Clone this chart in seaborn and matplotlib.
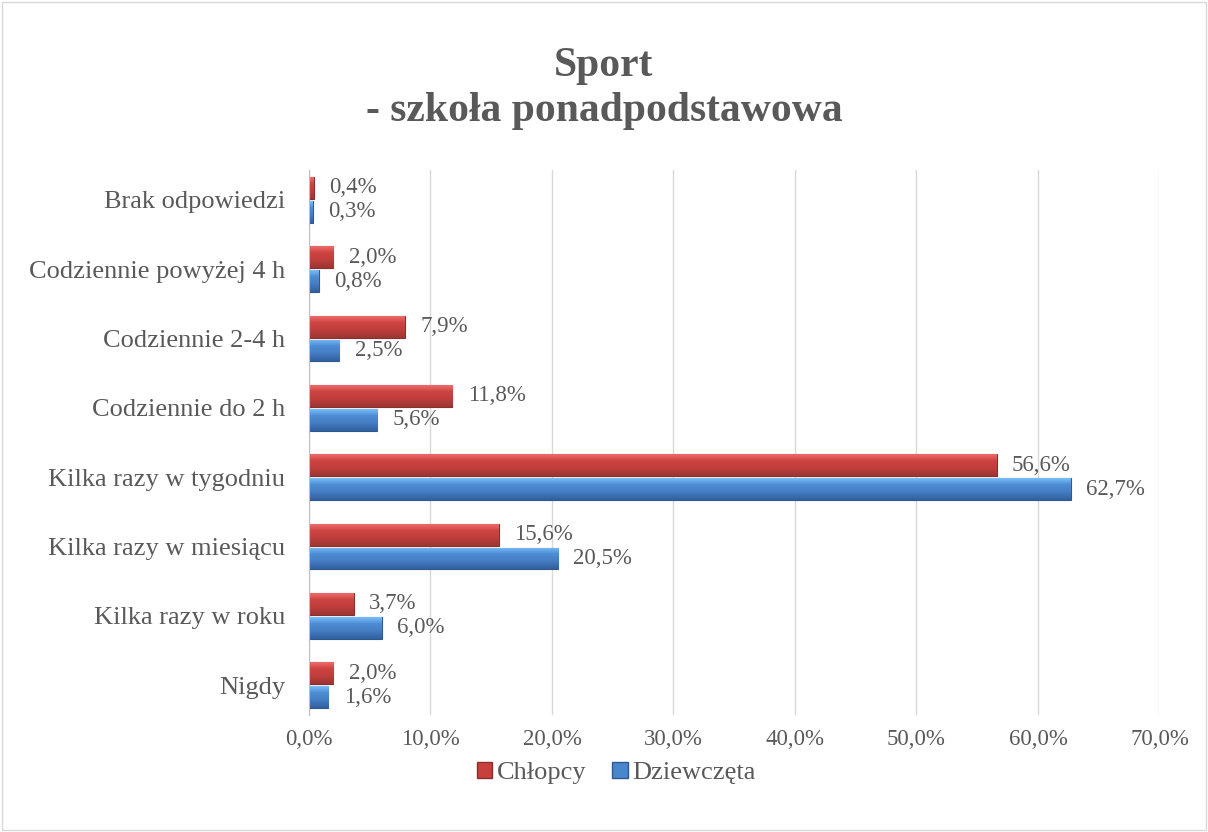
import matplotlib
matplotlib.use('Agg')
import matplotlib.pyplot as plt
import seaborn as sns
import pandas as pd
import numpy as np
from matplotlib.colors import to_rgb
from matplotlib.ticker import FuncFormatter

kategorie = [
    'Brak odpowiedzi',
    'Codziennie powyżej 4 h',
    'Codziennie 2-4 h',
    'Codziennie do 2 h',
    'Kilka razy w tygodniu',
    'Kilka razy w miesiącu',
    'Kilka razy w roku',
    'Nigdy',
]
chlopcy = [0.4, 2.0, 7.9, 11.8, 56.6, 15.6, 3.7, 2.0]
dziewczeta = [0.3, 0.8, 2.5, 5.6, 62.7, 20.5, 6.0, 1.6]
serie = ['Chłopcy', 'Dziewczęta']
kolory = ['#C8403E', '#4A86CC']
# jasny / srodek / ciemny - efekt wypuklosci
gradienty = [
    ['#EE6B69', '#CC4442', '#C13E3C', '#9C3533'],
    ['#78BDF8', '#4E8CD4', '#4680C6', '#31609E'],
]
krawedzie = ['#8A2F2D', '#2D5892']

df = pd.DataFrame({
    'kategoria': kategorie * 2,
    'wartosc': chlopcy + dziewczeta,
    'plec': [serie[0]] * len(kategorie) + [serie[1]] * len(kategorie),
})

sns.set_style('white')
plt.rcParams['font.family'] = ['Liberation Serif', 'DejaVu Serif']
szary = '#595959'

fig = plt.figure(figsize=(12.08, 8.32), dpi=100)
ax = fig.add_axes([0.2558, 0.1406, 0.704, 0.655])

sns.barplot(
    data=df, y='kategoria', x='wartosc', hue='plec',
    order=kategorie, hue_order=serie, palette=kolory, saturation=1,
    orient='h', width=0.69, gap=0.085, ax=ax, legend=False,
)


def wypelnij(p, kol):
    x0, y0 = p.get_x(), p.get_y()
    w, h = p.get_width(), p.get_height()
    stops = np.array([to_rgb(c) for c in kol])
    t = np.linspace(0, 1, 40)
    pos = np.array([0, 0.3, 0.6, 1.0])
    img = np.stack([np.interp(t, pos, stops[:, i]) for i in range(3)], axis=1)
    img = img[:, None, :]
    im = ax.imshow(img, extent=(x0, x0 + w, y0 + h, y0), origin='upper',
                   aspect='auto', zorder=p.get_zorder() + 0.1, interpolation='bilinear')
    im.set_clip_path(p)


for cont, kol, kr in zip(ax.containers, gradienty, krawedzie):
    for p in cont:
        p.set_edgecolor(kr)
        p.set_linewidth(0.8)
        wypelnij(p, kol)
    ax.bar_label(cont, labels=[f'{v:.1f}%'.replace('.', ',') for v in cont.datavalues],
                 padding=11, fontsize=16.5, color=szary)

ax.set_xlim(0, 70)
ax.set_ylim(7.43, -0.43)
ax.set_xticks(range(0, 71, 10))
ax.xaxis.set_major_formatter(FuncFormatter(lambda v, p: f'{v:.1f}%'.replace('.', ',')))
ax.grid(axis='x', color='#D9D9D9', linewidth=1)
ax.set_axisbelow(True)
for s in ['top', 'right', 'bottom']:
    ax.spines[s].set_visible(False)
ax.spines['left'].set_color('#BFBFBF')
ax.tick_params(axis='y', length=0, labelsize=19, colors=szary, pad=17)
ax.tick_params(axis='x', length=0, labelsize=16.5, colors=szary, pad=10)
ax.set_xlabel('')
ax.set_ylabel('')

fig.suptitle('Sport\n- szkoła ponadpodstawowa', y=0.944, fontsize=30,
             fontweight='bold', color=szary, linespacing=1.25)

uchwyty = [plt.Rectangle((0, 0), 1, 1, facecolor=c, edgecolor=k) for c, k in zip(kolory, krawedzie)]
fig.legend(uchwyty, serie, loc='center', bbox_to_anchor=(0.51, 0.071), ncol=2,
           frameon=False, fontsize=19, handlelength=0.6, handleheight=0.6,
           handletextpad=0.15, columnspacing=1.0, labelcolor=szary)

fig.patches.append(plt.Rectangle((0.002, 0.002), 0.996, 0.996, transform=fig.transFigure,
                                 fill=False, edgecolor='#D9D9D9', linewidth=1))

fig.savefig('out.png', dpi=100)
